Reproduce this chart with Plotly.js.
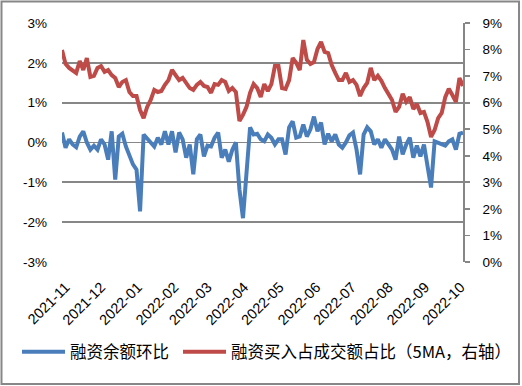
<!DOCTYPE html>
<html>
<head>
<meta charset="utf-8">
<script src="https://cdn.plot.ly/plotly-3.0.1.min.js"></script>
<style>
html,body{margin:0;padding:0;background:#fff;}
#chart{width:522px;height:386px;}
</style>
</head>
<body>
<div id="chart"></div>
<script>
const dates = [
"2021-10-29","2021-11-01","2021-11-04","2021-11-07","2021-11-10","2021-11-13","2021-11-16","2021-11-19","2021-11-22","2021-11-25",
"2021-11-28","2021-12-01","2021-12-04","2021-12-07","2021-12-10","2021-12-13","2021-12-16","2021-12-19","2021-12-22","2021-12-25",
"2021-12-28","2021-12-31","2022-01-03","2022-01-06","2022-01-09","2022-01-12","2022-01-15","2022-01-18","2022-01-21","2022-01-24",
"2022-01-27","2022-01-30","2022-02-02","2022-02-05","2022-02-08","2022-02-11","2022-02-14","2022-02-17","2022-02-20","2022-02-23",
"2022-02-26","2022-03-01","2022-03-04","2022-03-07","2022-03-10","2022-03-13","2022-03-16","2022-03-19","2022-03-22","2022-03-25",
"2022-03-28","2022-03-31","2022-04-03","2022-04-06","2022-04-09","2022-04-12","2022-04-15","2022-04-18","2022-04-21","2022-04-24",
"2022-04-27","2022-04-30","2022-05-03","2022-05-06","2022-05-09","2022-05-12","2022-05-15","2022-05-18","2022-05-21","2022-05-24",
"2022-05-27","2022-05-30","2022-06-02","2022-06-05","2022-06-08","2022-06-11","2022-06-14","2022-06-17","2022-06-20","2022-06-23",
"2022-06-26","2022-06-29","2022-07-02","2022-07-05","2022-07-08","2022-07-11","2022-07-14","2022-07-17","2022-07-20","2022-07-23",
"2022-07-26","2022-07-29","2022-08-01","2022-08-04","2022-08-07","2022-08-10","2022-08-13","2022-08-16","2022-08-19","2022-08-22",
"2022-08-25","2022-08-28","2022-08-31","2022-09-03","2022-09-06","2022-09-09","2022-09-12","2022-09-15","2022-09-18","2022-09-21",
"2022-09-24","2022-09-27","2022-09-30","2022-10-03"
];

// 融资余额环比 (%), left axis
const balanceChange = [
0.25,-0.13,0.08,-0.05,-0.12,0.15,0.28,0.00,-0.18,-0.08,
-0.18,0.08,-0.05,-0.43,0.28,-0.93,0.15,0.22,-0.10,-0.35,
-0.55,-0.68,-1.73,0.20,0.10,0.03,-0.10,0.12,-0.05,0.28,
-0.05,0.28,-0.25,0.25,0.08,-0.38,-0.05,-0.80,0.08,0.20,
-0.35,-0.08,-0.10,0.12,0.25,-0.38,-0.18,-0.48,-0.18,0.00,
-1.18,-1.90,-0.73,0.38,0.20,0.22,0.08,0.03,0.20,0.12,
-0.05,0.08,0.08,-0.30,0.38,0.53,0.12,0.15,0.45,0.15,
0.33,0.65,0.28,0.50,-0.05,0.22,0.03,0.20,-0.05,-0.13,
0.00,0.18,0.25,-0.18,-0.80,0.20,0.38,0.28,-0.05,0.08,
-0.13,0.08,-0.05,-0.18,-0.43,0.15,-0.30,-0.05,0.12,-0.38,
-0.08,-0.35,-0.05,-0.63,-1.13,0.03,0.00,-0.05,-0.08,0.03,
0.08,-0.18,0.22,0.25
];

// 融资买入占成交额占比 (5MA, %), right axis
const buyShare = [
7.98,7.46,7.31,7.19,7.12,7.57,7.23,7.68,6.97,7.01,
7.31,7.38,7.16,7.23,7.04,6.93,6.59,6.78,6.85,6.40,
6.25,6.25,5.72,5.42,5.84,6.10,6.48,6.40,6.44,6.67,
6.85,7.23,7.01,6.85,6.93,6.74,6.55,6.48,6.67,6.78,
6.63,6.59,6.37,6.70,6.67,6.85,6.78,6.44,6.55,6.40,
5.31,5.54,5.84,6.37,6.70,6.55,6.21,6.70,6.44,6.70,
7.38,7.38,6.55,6.52,6.85,7.68,7.50,7.23,8.36,7.61,
7.46,7.53,8.02,8.29,7.91,7.87,7.42,7.12,6.85,6.85,
7.12,6.78,6.85,6.67,6.25,6.55,6.74,7.31,6.85,7.01,
6.82,6.55,6.29,6.10,5.65,5.84,6.33,6.03,6.21,5.76,
5.95,5.61,5.65,5.27,4.71,4.97,5.42,5.61,6.21,6.52,
6.29,6.03,6.93,6.63
];

const monthTicks = ["2021-11-01","2021-12-01","2022-01-01","2022-02-01","2022-03-01","2022-04-01","2022-05-01","2022-06-01","2022-07-01","2022-08-01","2022-09-01","2022-10-01"];
const monthLabels = ["2021-11","2021-12","2022-01","2022-02","2022-03","2022-04","2022-05","2022-06","2022-07","2022-08","2022-09","2022-10"];
const leftTicks = [-3,-2,-1,0,1,2,3];
const leftLabels = ["-3%","-2%","-1%","0%","1%","2%","3%"];
const rightTicks = [0,1,2,3,4,5,6,7,8,9];
const rightLabels = ["0%","1%","2%","3%","4%","5%","6%","7%","8%","9%"];
const seriesNames = ["融资余额环比","融资买入占成交额占比（5MA，右轴）"];

const fontLatin = "Liberation Sans, Arial, sans-serif";
const fontCJK = "Noto Sans CJK SC, sans-serif";

const traces = [
  {x: dates, y: balanceChange, name: seriesNames[0], type: "scatter", mode: "lines",
   line: {color: "#4a7ebb", width: 4}, yaxis: "y", legend: "legend"},
  {x: dates, y: buyShare, name: seriesNames[1], type: "scatter", mode: "lines",
   line: {color: "#be4b48", width: 4}, yaxis: "y2", legend: "legend2"}
];

const legendFont = {family: fontCJK, size: 16.5, color: "#000"};

const layout = {
  width: 522, height: 386,
  margin: {l: 62, r: 59, t: 23, b: 124, autoexpand: false},
  paper_bgcolor: "#ffffff", plot_bgcolor: "#ffffff",
  showlegend: true,
  legend: {orientation: "h", x: -0.1122, xanchor: "left", y: -0.377, yanchor: "middle",
           font: legendFont, itemwidth: 43, bgcolor: "rgba(0,0,0,0)"},
  legend2: {orientation: "h", x: 0.2893, xanchor: "left", y: -0.377, yanchor: "middle",
           font: legendFont, itemwidth: 43, bgcolor: "rgba(0,0,0,0)"},
  xaxis: {type: "date", range: ["2021-10-29", "2022-10-03"], tickvals: monthTicks, ticktext: monthLabels,
          tickangle: -45, showgrid: false, zeroline: false, showline: false, ticks: "",
          ticklabelstandoff: 13,
          tickfont: {family: fontLatin, size: 14.5, color: "#000"}, fixedrange: true},
  yaxis: {range: [-3, 3], tickvals: leftTicks, ticktext: leftLabels, showgrid: true,
          gridcolor: "#878787", gridwidth: 1.8, zeroline: false, showline: false, ticks: "",
          ticklabelstandoff: 14,
          tickfont: {family: fontLatin, size: 13.5, color: "#000"}},
  yaxis2: {range: [0, 9], tickvals: rightTicks, ticktext: rightLabels, overlaying: "y", side: "right",
           showgrid: false, zeroline: false, showline: true, linecolor: "#878787", linewidth: 1.8,
           ticks: "outside", ticklen: 5, tickcolor: "#878787", tickwidth: 1.8, ticklabelstandoff: 10,
           tickfont: {family: fontLatin, size: 13.5, color: "#000"}},
  shapes: [
    {type: "rect", xref: "paper", yref: "paper", x0: -0.1509, x1: 1.1397, y0: -0.5105, y1: 1.0900,
     line: {color: "#878787", width: 2}, fillcolor: "rgba(0,0,0,0)", layer: "below"}
  ]
};

Plotly.newPlot("chart", traces, layout, {displayModeBar: false, staticPlot: true});
</script>
</body>
</html>
